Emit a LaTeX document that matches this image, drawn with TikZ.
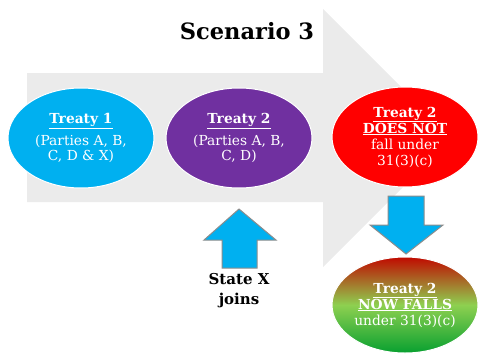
\documentclass[tikz,border=0pt]{standalone}
\usepackage{fontspec}
\setmainfont{DejaVu Serif}
\usetikzlibrary{shapes.geometric}
\definecolor{cblue}{HTML}{00B0F0}
\definecolor{cpurple}{HTML}{7030A0}
\definecolor{cred}{HTML}{FF0000}
\definecolor{cgray}{HTML}{EBEBEB}
\definecolor{cdarkred}{HTML}{C00A00}
\definecolor{clightgreen}{HTML}{8ED050}
\definecolor{cgreen}{HTML}{08A030}
\definecolor{cborder}{HTML}{8C8C8C}
\tikzset{
  oval/.style={ellipse, draw=white, line width=1pt, inner sep=0pt,
    minimum width=146pt, minimum height=100pt, text=white, align=center,
    font=\fontsize{13.8}{16}\selectfont},
  blockarrow/.style={fill=cblue, draw=cborder, line width=1pt, line join=miter},
}
\newcommand{\ttl}[1]{\textbf{\underline{#1}}}
\begin{document}
\begin{tikzpicture}[x=1pt,y=-1pt]
\useasboundingbox (0,0) rectangle (478,353);
\fill[cgray] (27,73) -- (323,73) -- (323,9) -- (452,138) -- (323,267) -- (323,202) -- (27,202) -- cycle;
\node[font=\fontsize{22.5}{26}\selectfont\bfseries] (title) at (247,31) {Scenario 3};
\node[oval, fill=cblue] (t1) at (81,138) {\ttl{Treaty 1}\\[6pt](Parties A, B,\\[-1pt]C, D \& X)};
\node[oval, fill=cpurple] (t2) at (239,138) {\ttl{Treaty 2}\\[6pt](Parties A, B,\\[-1pt]C, D)};
\node[oval, fill=cred] (t3) at (405,137) {\ttl{Treaty 2}\\\ttl{DOES NOT}\\fall under\\31(3)(c)};
\node[oval, minimum height=96pt, top color=cdarkred, bottom color=cgreen, middle color=clightgreen] (t4) at (405,305) {\ttl{Treaty 2}\\\ttl{NOW FALLS}\\under 31(3)(c)};
\draw[blockarrow] (388,196) -- (424,196) -- (424,225) -- (443,225) -- (406,254) -- (370,225) -- (388,225) -- cycle;
\draw[blockarrow] (222,268) -- (257,268) -- (257,240) -- (276,240) -- (239,209) -- (204,240) -- (222,240) -- cycle;
\node[font=\fontsize{15}{20}\selectfont\bfseries, align=center] (join) at (239,291) {State X\\joins};
\end{tikzpicture}
\end{document}
